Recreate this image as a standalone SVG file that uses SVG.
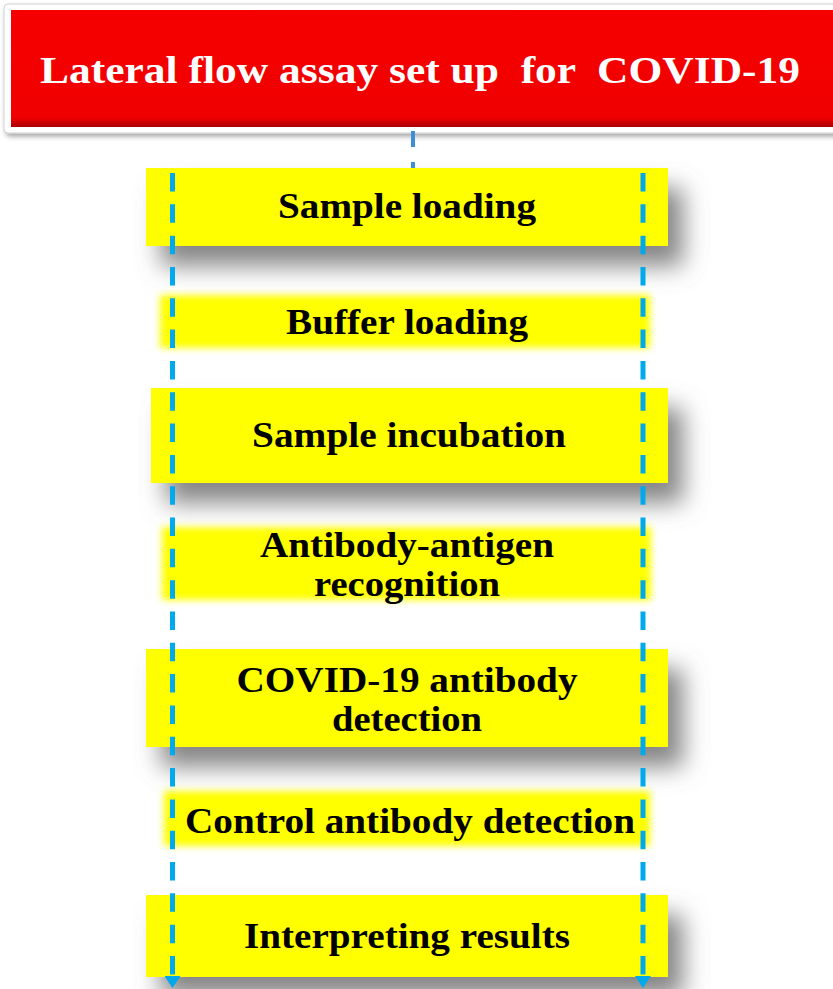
<svg xmlns="http://www.w3.org/2000/svg" width="833" height="989" viewBox="0 0 833 989">
<style>
.lbl{font-family:"Liberation Serif","Times New Roman",serif;font-weight:bold;font-size:35px;fill:#000;text-anchor:middle}
.ttl{font-family:"Liberation Serif","Times New Roman",serif;font-weight:bold;font-size:38.5px;fill:#fff;text-anchor:middle;white-space:pre}
.solid{fill:#ffff00;filter:url(#shadow)}
.glow{fill:#ffff00;filter:url(#soft)}
.side{stroke:#00a8ec;stroke-width:5;fill:none;stroke-dasharray:18.5 12.82}
</style>
<defs>
<filter id="shadow" x="-15%" y="-50%" width="145%" height="230%">
<feDropShadow dx="15" dy="20" stdDeviation="12" flood-color="#707070" flood-opacity="0.85"/>
</filter>
<filter id="soft" x="-5%" y="-30%" width="110%" height="160%">
<feGaussianBlur stdDeviation="3.5"/>
</filter>
<filter id="frameShadow" x="-5%" y="-20%" width="110%" height="150%">
<feDropShadow dx="2" dy="3" stdDeviation="2.5" flood-color="#000" flood-opacity="0.35"/>
</filter>
<linearGradient id="redGrad" x1="0" y1="0" x2="0" y2="1">
<stop offset="0" stop-color="#f60000"/>
<stop offset="0.92" stop-color="#f00000"/>
<stop offset="1" stop-color="#a80000"/>
</linearGradient>
<marker id="arrow" markerUnits="userSpaceOnUse" viewBox="0 -8 12 16" refX="0" refY="0" markerWidth="12" markerHeight="16" orient="auto">
<path d="M0,-8 L12,0 L0,8 Z" fill="#00a8ec"/>
</marker>
</defs>
<rect width="833" height="989" fill="#ffffff"/>

<g id="title">
<rect x="4" y="4" width="845" height="129" rx="4" fill="#ffffff" stroke="#d0d0d0" stroke-width="1" filter="url(#frameShadow)"/>
<rect x="11" y="10" width="840" height="117" fill="url(#redGrad)"/>
<text class="ttl" x="420" y="83" textLength="760" lengthAdjust="spacingAndGlyphs" xml:space="preserve">Lateral flow assay set up  for  COVID-19</text>
</g>

<g id="sample-loading">
<rect class="solid" x="146" y="168" width="522" height="78"/>
<text class="lbl" x="407" y="218" textLength="258" lengthAdjust="spacingAndGlyphs">Sample loading</text>
</g>

<g id="buffer-loading">
<rect class="glow" x="160" y="295" width="490" height="53"/>
<text class="lbl" x="407" y="334" textLength="242" lengthAdjust="spacingAndGlyphs">Buffer loading</text>
</g>

<g id="sample-incubation">
<rect class="solid" x="151" y="388" width="517" height="95"/>
<text class="lbl" x="409" y="447" textLength="314" lengthAdjust="spacingAndGlyphs">Sample incubation</text>
</g>

<g id="antibody-antigen">
<rect class="glow" x="162" y="527" width="489" height="73"/>
<text class="lbl" x="407" y="557" textLength="294" lengthAdjust="spacingAndGlyphs">Antibody-antigen</text>
<text class="lbl" x="407" y="596" textLength="186" lengthAdjust="spacingAndGlyphs">recognition</text>
</g>

<g id="covid-detection">
<rect class="solid" x="146" y="649" width="522" height="98"/>
<text class="lbl" x="407" y="692" textLength="341" lengthAdjust="spacingAndGlyphs">COVID-19 antibody</text>
<text class="lbl" x="407" y="731" textLength="150" lengthAdjust="spacingAndGlyphs">detection</text>
</g>

<g id="control-detection">
<rect class="glow" x="164" y="791" width="486" height="55"/>
<text class="lbl" x="410" y="833" textLength="450" lengthAdjust="spacingAndGlyphs">Control antibody detection</text>
</g>

<g id="interpreting-results">
<rect class="solid" x="146" y="895" width="522" height="82"/>
<text class="lbl" x="407" y="948" textLength="326" lengthAdjust="spacingAndGlyphs">Interpreting results</text>
</g>

<g id="connectors">
<line x1="413" y1="131" x2="413" y2="168" stroke="#3d8ed4" stroke-width="4" stroke-dasharray="16 15"/>
<line class="side" x1="172.5" y1="173" x2="172.5" y2="976" marker-end="url(#arrow)"/>
<line class="side" x1="643" y1="173" x2="643" y2="976" marker-end="url(#arrow)"/>
</g>
</svg>
